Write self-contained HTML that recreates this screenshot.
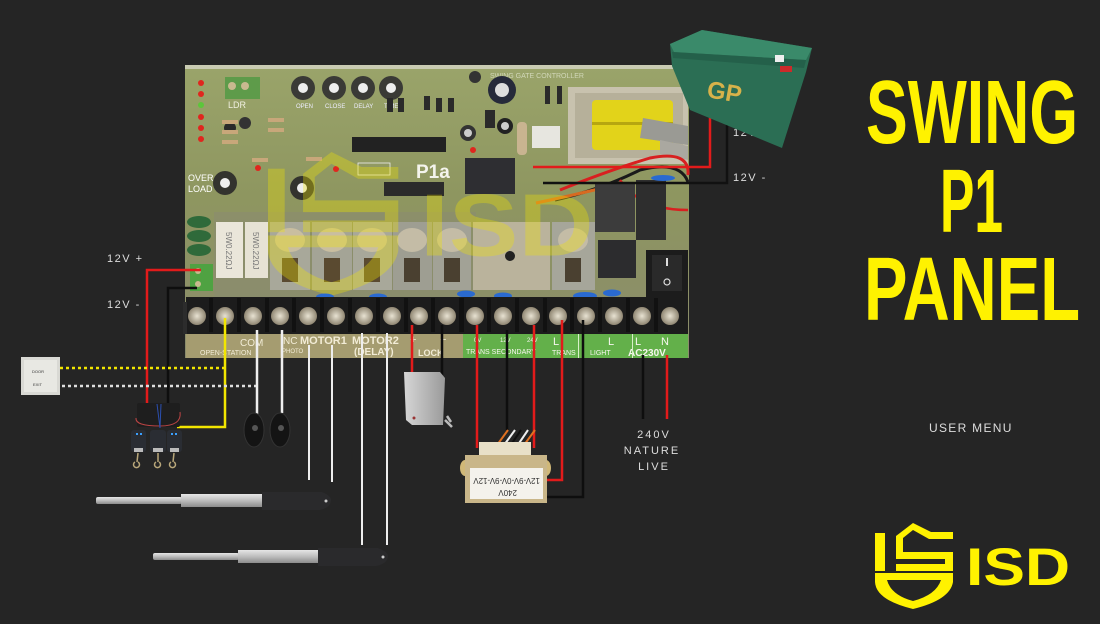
<!DOCTYPE html>
<html><head><meta charset="utf-8"><style>
html,body{margin:0;padding:0;background:#252525;}
svg{display:block;}
text{font-family:"Liberation Sans",sans-serif;}
</style></head><body>
<svg width="1100" height="624" viewBox="0 0 1100 624" xmlns="http://www.w3.org/2000/svg">
<defs>
<linearGradient id="pcb" x1="0" y1="0" x2="0" y2="1">
<stop offset="0" stop-color="#9aa46a"/><stop offset="0.45" stop-color="#8e9660"/><stop offset="1" stop-color="#8a8b6c"/>
</linearGradient>
<linearGradient id="rod" x1="0" y1="0" x2="0" y2="1">
<stop offset="0" stop-color="#e6e6e6"/><stop offset="0.5" stop-color="#bdbdbd"/><stop offset="1" stop-color="#8c8c8c"/>
</linearGradient>
<linearGradient id="lock" x1="0" y1="0" x2="1" y2="0">
<stop offset="0" stop-color="#d6d6d6"/><stop offset="1" stop-color="#9a9a9a"/>
</linearGradient>
<radialGradient id="screw"><stop offset="0" stop-color="#e8e2d2"/><stop offset="1" stop-color="#8f8672"/></radialGradient>
</defs>
<rect width="1100" height="624" fill="#252525"/>

<!-- PCB -->
<rect x="185" y="65" width="504" height="293" fill="url(#pcb)"/>
<rect x="185" y="65" width="504" height="4" fill="#c9cbb2"/>
<text x="490" y="78" font-size="7" fill="#e8ecd8" opacity="0.7">SWING GATE CONTROLLER</text>
<!-- LEDs -->
<g fill="#e0261e"><circle cx="201" cy="83" r="3"/><circle cx="201" cy="94" r="3"/><circle cx="201" cy="117" r="3"/><circle cx="201" cy="128" r="3"/><circle cx="201" cy="139" r="3"/><circle cx="258" cy="168" r="3"/><circle cx="336" cy="169" r="3"/><circle cx="473" cy="150" r="3"/></g>
<circle cx="201" cy="105" r="3" fill="#5cc63a"/>
<rect x="225" y="77" width="35" height="22" fill="#5e9b4a"/><circle cx="232" cy="86" r="4" fill="#c9b98f"/><circle cx="245" cy="86" r="4" fill="#c9b98f"/>
<text x="228" y="108" font-size="9" fill="#f0f0e0">LDR</text>
<!-- trimpots top -->
<g><circle cx="303" cy="88" r="12" fill="#3a3a36"/><circle cx="303" cy="88" r="5" fill="#eee"/>
<circle cx="334" cy="88" r="12" fill="#3a3a36"/><circle cx="334" cy="88" r="5" fill="#eee"/>
<circle cx="363" cy="88" r="12" fill="#3a3a36"/><circle cx="363" cy="88" r="5" fill="#eee"/>
<circle cx="391" cy="88" r="12" fill="#3a3a36"/><circle cx="391" cy="88" r="5" fill="#eee"/></g>
<g font-size="6" fill="#eef"><text x="296" y="108">OPEN</text><text x="325" y="108">CLOSE</text><text x="354" y="108">DELAY</text><text x="384" y="108">TIMER</text></g>
<!-- misc small components -->
<g fill="#2a2a2a"><rect x="387" y="98" width="6" height="14"/><rect x="398" y="98" width="6" height="14"/><rect x="424" y="96" width="6" height="14"/><rect x="436" y="98" width="6" height="14"/><rect x="448" y="98" width="6" height="14"/><rect x="485" y="110" width="10" height="18"/><rect x="545" y="86" width="5" height="18"/><rect x="557" y="86" width="5" height="18"/></g>
<circle cx="502" cy="90" r="14" fill="#262a3a"/><circle cx="502" cy="90" r="7" fill="#ddd"/>
<circle cx="475" cy="77" r="6" fill="#333"/>
<circle cx="505" cy="126" r="8" fill="#222"/><circle cx="505" cy="126" r="4" fill="#ccc"/>
<circle cx="468" cy="133" r="8" fill="#333"/><circle cx="468" cy="133" r="4" fill="#ccc"/>
<rect x="517" y="122" width="10" height="33" rx="4" fill="#c9b490"/>
<rect x="532" y="126" width="28" height="22" fill="#e7e6e0"/>
<rect x="352" y="137" width="94" height="15" fill="#222"/>
<rect x="384" y="182" width="60" height="14" fill="#2b2b2b"/>
<circle cx="230" cy="128" r="6" fill="#2a2a2a"/><circle cx="245" cy="123" r="6" fill="#333"/>
<g fill="#c8a77a"><rect x="222" y="120" width="16" height="4"/><rect x="222" y="130" width="16" height="4"/><rect x="222" y="140" width="16" height="4"/><rect x="268" y="118" width="16" height="4"/><rect x="268" y="128" width="16" height="4"/><rect x="306" y="157" width="16" height="4"/><rect x="252" y="158" width="16" height="4"/></g>
<!-- trimpots lower -->
<circle cx="225" cy="183" r="12" fill="#33332e"/><circle cx="225" cy="183" r="5" fill="#eee"/>
<circle cx="302" cy="188" r="12" fill="#33332e"/><circle cx="302" cy="188" r="5" fill="#eee"/>
<text x="188" y="181" font-size="9" fill="#fff" font-family="Liberation Serif">OVER</text>
<text x="188" y="192" font-size="9" fill="#fff" font-family="Liberation Serif">LOAD</text>
<text x="416" y="178" font-size="19" font-weight="bold" fill="#f4f4ec" font-family="Liberation Serif">P1a</text>
<rect x="358" y="163" width="32" height="12" fill="none" stroke="#eee" stroke-width="0.8"/>
<!-- black relay top -->
<rect x="465" y="158" width="50" height="36" fill="#2e2e32"/>
<!-- transformer top -->
<rect x="568" y="87" width="120" height="77" fill="#c8c2ae"/>
<rect x="575" y="93" width="108" height="65" fill="#b6b09a"/>
<rect x="592" y="100" width="81" height="50" rx="4" fill="#e2d31a"/>
<rect x="592" y="122" width="81" height="3" fill="#b6a610"/>
<path d="M643 118 L688 126 L688 145 L640 138 Z" fill="#9a9a94"/>
<path d="M660 140 L688 146 L688 160 L660 154 Z" fill="#aaa8a0"/>
<!-- wiring on board -->
<path d="M560 190 Q610 170 650 158 Q690 150 688 175" fill="none" stroke="#d82020" stroke-width="3"/>
<path d="M555 200 Q600 190 640 170 Q680 160 688 182" fill="none" stroke="#1a1a1a" stroke-width="3"/>
<path d="M536 203 Q570 196 615 185" fill="none" stroke="#d86a20" stroke-width="3"/>
<path d="M620 180 Q640 210 688 210" fill="none" stroke="#d82020" stroke-width="2.5"/>
<rect x="595" y="182" width="40" height="50" fill="#3c3c3c"/>
<rect x="636" y="180" width="30" height="60" fill="#2e2e2e"/>
<ellipse cx="663" cy="178" rx="12" ry="3" fill="#2a6ad0"/>
<!-- left green caps -->
<g fill="#2f6a3a"><ellipse cx="199" cy="222" rx="12" ry="6"/><ellipse cx="199" cy="236" rx="12" ry="6"/><ellipse cx="199" cy="250" rx="12" ry="6"/></g>
<rect x="190" y="264" width="23" height="27" fill="#4fa242"/>
<circle cx="198" cy="271" r="3" fill="#c9b98f"/><circle cx="198" cy="284" r="3" fill="#c9b98f"/>
<!-- relay row -->
<rect x="214" y="212" width="262" height="86" fill="#8b8c70" opacity="0.6"/>
<rect x="216" y="222" width="27" height="56" fill="#eae6da"/>
<rect x="245" y="222" width="23" height="56" fill="#e6e2d4"/>
<text transform="translate(226,232) rotate(90)" font-size="8" fill="#777">5W0.22ΩJ</text>
<text transform="translate(253,232) rotate(90)" font-size="8" fill="#777">5W0.22ΩJ</text>
<g>
<rect x="270" y="222" width="40" height="68" fill="#a8a89a"/><ellipse cx="290" cy="240" rx="15" ry="12" fill="#c9bea0"/><rect x="282" y="258" width="16" height="24" fill="#5a4a30"/>
<rect x="312" y="222" width="40" height="68" fill="#a4a496"/><ellipse cx="332" cy="240" rx="15" ry="12" fill="#c9bea0"/><rect x="324" y="258" width="16" height="24" fill="#5a4a30"/>
<rect x="353" y="222" width="39" height="68" fill="#a8a89a"/><ellipse cx="372" cy="240" rx="15" ry="12" fill="#c9bea0"/><rect x="364" y="258" width="16" height="24" fill="#5a4a30"/>
<rect x="393" y="222" width="39" height="68" fill="#9e9e92"/><ellipse cx="412" cy="240" rx="15" ry="12" fill="#c4bca6"/><rect x="404" y="258" width="16" height="24" fill="#4a4030"/>
<rect x="433" y="222" width="38" height="68" fill="#a2a296"/><ellipse cx="452" cy="240" rx="15" ry="12" fill="#c4bca6"/><rect x="444" y="258" width="16" height="24" fill="#4a4030"/>
<rect x="473" y="222" width="77" height="68" fill="#bab39c"/><circle cx="510" cy="256" r="5" fill="#222"/>
<rect x="552" y="222" width="43" height="68" fill="#a6a69a"/><ellipse cx="573" cy="240" rx="15" ry="12" fill="#c4bca6"/><rect x="565" y="258" width="16" height="24" fill="#4a4030"/>
<rect x="598" y="240" width="38" height="38" fill="#2c2c2e"/>
<rect x="646" y="250" width="42" height="48" fill="#1c1c1c"/><rect x="652" y="255" width="30" height="36" fill="#2a2a2a"/>
<rect x="666" y="258" width="2" height="8" fill="#ddd"/><circle cx="667" cy="282" r="3" fill="none" stroke="#ddd" stroke-width="1.2"/>
</g>
<!-- watermark: ISD logo scaled -->
<g fill="#f2e600" opacity="0.33" transform="translate(268,152) scale(1.67) translate(-875,-523)">
<rect x="875" y="533" width="10" height="38"/>
<path d="M896 551 V536 L913 523 L931 532 H953 V539 H929 L913 530 L903 538 V551 Z"/>
<path d="M896 548 H903 V552 H953 V571 H896 V564 H945 V559 H896 Z"/>
<path fill-rule="evenodd" d="M875 573 H953 V582 Q950 600 913 609 Q876 600 875 582 Z M887 580 H941 Q936 595 913 601 Q891 595 887 580 Z"/>
<text x="966" y="585" font-size="53" font-weight="bold" textLength="104" lengthAdjust="spacingAndGlyphs">ISD</text>
</g>
<!-- blue caps -->
<g fill="#2a6ad0"><ellipse cx="325" cy="297" rx="9" ry="3.5"/><ellipse cx="378" cy="297" rx="9" ry="3.5"/><ellipse cx="466" cy="294" rx="9" ry="3.5"/><ellipse cx="503" cy="296" rx="9" ry="3.5"/><ellipse cx="585" cy="296" rx="12" ry="4"/><ellipse cx="612" cy="293" rx="9" ry="3.5"/></g>
<!-- terminal block -->
<rect x="186" y="297" width="502" height="37" fill="#1c1c1c"/>
<rect x="183" y="302" width="4" height="32" fill="#2c2c2c"/>
<g>
<circle cx="197" cy="316" r="9" fill="url(#screw)"/><circle cx="225" cy="316" r="9" fill="url(#screw)"/><circle cx="253" cy="316" r="9" fill="url(#screw)"/><circle cx="280" cy="316" r="9" fill="url(#screw)"/><circle cx="308" cy="316" r="9" fill="url(#screw)"/><circle cx="336" cy="316" r="9" fill="url(#screw)"/><circle cx="364" cy="316" r="9" fill="url(#screw)"/><circle cx="392" cy="316" r="9" fill="url(#screw)"/><circle cx="419" cy="316" r="9" fill="url(#screw)"/><circle cx="447" cy="316" r="9" fill="url(#screw)"/><circle cx="475" cy="316" r="9" fill="url(#screw)"/><circle cx="503" cy="316" r="9" fill="url(#screw)"/><circle cx="531" cy="316" r="9" fill="url(#screw)"/><circle cx="558" cy="316" r="9" fill="url(#screw)"/><circle cx="586" cy="316" r="9" fill="url(#screw)"/><circle cx="614" cy="316" r="9" fill="url(#screw)"/><circle cx="642" cy="316" r="9" fill="url(#screw)"/><circle cx="670" cy="316" r="9" fill="url(#screw)"/>
</g>
<g fill="#111"><rect x="209" y="298" width="4" height="34"/><rect x="237" y="298" width="4" height="34"/><rect x="265" y="298" width="4" height="34"/><rect x="292" y="298" width="4" height="34"/><rect x="320" y="298" width="4" height="34"/><rect x="348" y="298" width="4" height="34"/><rect x="376" y="298" width="4" height="34"/><rect x="404" y="298" width="4" height="34"/><rect x="431" y="298" width="4" height="34"/><rect x="459" y="298" width="5" height="34"/><rect x="487" y="298" width="4" height="34"/><rect x="515" y="298" width="4" height="34"/><rect x="543" y="298" width="4" height="34"/><rect x="570" y="298" width="4" height="34"/><rect x="598" y="298" width="4" height="34"/><rect x="626" y="298" width="4" height="34"/><rect x="654" y="298" width="4" height="34"/></g>
<!-- label strip -->
<rect x="186" y="334" width="277" height="24" fill="#a59c70"/>
<rect x="463" y="334" width="225" height="24" fill="#63b04a"/>
<g fill="#f2ecd6" font-family="Liberation Serif">
<text x="240" y="346" font-size="10">COM</text><text x="283" y="344" font-size="10">NC</text>
<text x="282" y="353" font-size="6">PHOTO</text><text x="200" y="355" font-size="7">OPEN-STATION</text>
<text x="300" y="344" font-size="11" font-weight="bold">MOTOR1</text>
<text x="352" y="344" font-size="11" font-weight="bold">MOTOR2</text>
<text x="354" y="355" font-size="10" font-weight="bold">(DELAY)</text>
<text x="410" y="343" font-size="11">+</text><text x="440" y="343" font-size="11">−</text>
<text x="418" y="356" font-size="9" font-weight="bold">LOCK</text>
</g>
<g fill="#f6f6ee" font-family="Liberation Serif">
<text x="474" y="342" font-size="6">0V</text><text x="500" y="342" font-size="6">12V</text><text x="527" y="342" font-size="6">24V</text>
<text x="466" y="354" font-size="7">TRANS SECONDARY</text>
<text x="553" y="345" font-size="11">L</text><text x="552" y="355" font-size="7">TRANS</text>
<text x="608" y="345" font-size="11">L</text><text x="590" y="355" font-size="7">LIGHT</text>
<text x="635" y="345" font-size="11">L</text><text x="661" y="345" font-size="11">N</text>
<text x="628" y="356" font-size="10" font-weight="bold">AC230V</text>
</g>
<rect x="632" y="334" width="1" height="24" fill="#d8f0c8"/>
<rect x="578" y="334" width="1" height="24" fill="#d8f0c8"/>

<!-- battery wires -->
<polyline points="710,110 710,167 533,167" fill="none" stroke="#e21b1b" stroke-width="2.5"/>
<polyline points="727,118 727,183 543,183" fill="none" stroke="#111" stroke-width="2.5"/>
<text x="733" y="136" font-size="11" fill="#ddd" letter-spacing="1.5">12V +</text>
<text x="733" y="181" font-size="11" fill="#ddd" letter-spacing="1.5">12V -</text>
<!-- battery -->
<polygon points="670,44 702,30 812,48 806,72 782,148 690,110 672,66" fill="#2b6e54"/>
<polygon points="670,44 702,30 812,48 806,60 674,52" fill="#3a8a6a"/>
<polygon points="672,52 806,60 804,68 673,58" fill="#24604a"/>
<rect x="775" y="55" width="9" height="7" fill="#eee"/>
<rect x="780" y="66" width="12" height="6" fill="#cc2a2a"/>
<text x="706" y="97" font-size="24" font-weight="bold" fill="#d7b24a" transform="rotate(10 706 97)">GP</text>

<!-- left wiring -->
<polyline points="201,270 147,270 147,405" fill="none" stroke="#e21b1b" stroke-width="2.5"/>
<polyline points="197,288 168,288 168,405" fill="none" stroke="#0e0e0e" stroke-width="2.5"/>
<text x="107" y="262" font-size="11" fill="#ddd" letter-spacing="1.5">12V +</text>
<text x="107" y="308" font-size="11" fill="#ddd" letter-spacing="1.5">12V -</text>
<polyline points="225,318 225,427 177,427" fill="none" stroke="#f2e600" stroke-width="2.5"/>
<line x1="60" y1="368" x2="225" y2="368" stroke="#f2e600" stroke-width="2.5" stroke-dasharray="3,3"/>
<line x1="62" y1="386" x2="256" y2="386" stroke="#ddd" stroke-width="2.5" stroke-dasharray="3,3"/>
<!-- door button -->
<rect x="21" y="357" width="39" height="38" fill="#d9d9d4"/>
<rect x="24" y="360" width="33" height="32" fill="#e8e8e3"/>
<text x="32" y="373" font-size="4" fill="#333">DOOR</text><text x="33" y="386" font-size="4" fill="#333">EXIT</text>
<!-- remote receiver -->
<rect x="137" y="403" width="43" height="24" rx="2" fill="#1e1e1e"/>
<path d="M136 418 Q135 426 160 426 Q182 426 180 412" fill="none" stroke="#b44" stroke-width="1"/>
<path d="M157 404 L160 428 M161 404 L160 428" stroke="#2b4fb0" stroke-width="1"/>
<g fill="#2a2d33"><rect x="131" y="430" width="15" height="22" rx="3"/><rect x="150" y="430" width="16" height="22" rx="3"/><rect x="167" y="430" width="15" height="22" rx="3"/></g>
<g fill="#3aa0ff"><rect x="136" y="433" width="2" height="2"/><rect x="140" y="433" width="2" height="2"/><rect x="171" y="433" width="2" height="2"/><rect x="175" y="433" width="2" height="2"/></g>
<g fill="#bbb"><rect x="134" y="448" width="9" height="4"/><rect x="153" y="448" width="10" height="4"/><rect x="170" y="448" width="9" height="4"/></g>
<g fill="none" stroke="#b9a77a" stroke-width="1.5"><path d="M138 453 L137 462 M135 462 a3 3 0 1 0 3 0"/><path d="M158 453 L158 462 M156 462 a3 3 0 1 0 3 0"/><path d="M174 453 L173 462 M171 462 a3 3 0 1 0 3 0"/></g>
<!-- photo beams -->
<line x1="257" y1="330" x2="257" y2="417" stroke="#eee" stroke-width="2.5"/>
<line x1="282" y1="330" x2="282" y2="413" stroke="#eee" stroke-width="2.5"/>
<ellipse cx="254" cy="430" rx="10" ry="17" fill="#141414" stroke="#333" stroke-width="1"/>
<circle cx="255" cy="428" r="3" fill="#555"/>
<ellipse cx="280" cy="430" rx="10" ry="17" fill="#141414" stroke="#333" stroke-width="1"/>
<circle cx="281" cy="428" r="3" fill="#555"/>
<!-- motor wires -->
<line x1="309" y1="345" x2="309" y2="480" stroke="#eee" stroke-width="2"/>
<line x1="332" y1="345" x2="332" y2="482" stroke="#eee" stroke-width="2"/>
<line x1="362" y1="333" x2="362" y2="545" stroke="#eee" stroke-width="2"/>
<line x1="387" y1="333" x2="387" y2="545" stroke="#eee" stroke-width="2"/>
<!-- actuators -->
<rect x="96" y="497" width="86" height="7" rx="2" fill="url(#rod)"/>
<rect x="181" y="494" width="82" height="13" fill="url(#rod)"/>
<path d="M262 492 L322 492 Q332 496 331 501 Q330 508 320 510 L262 510 Z" fill="#2a2a2c"/>
<circle cx="326" cy="501" r="1.5" fill="#ccc"/>
<rect x="153" y="553" width="86" height="7" rx="2" fill="url(#rod)"/>
<rect x="238" y="550" width="81" height="13" fill="url(#rod)"/>
<path d="M318 548 L378 548 Q389 552 388 557 Q387 564 376 566 L318 566 Z" fill="#2a2a2c"/>
<circle cx="383" cy="557" r="1.5" fill="#ccc"/>
<!-- lock -->
<line x1="412" y1="325" x2="412" y2="373" stroke="#e21b1b" stroke-width="2.5"/>
<line x1="442" y1="325" x2="442" y2="375" stroke="#0e0e0e" stroke-width="2.5"/>
<path d="M404 372 L440 372 L445 378 L443 425 L412 425 L406 420 Z" fill="url(#lock)"/>
<circle cx="414" cy="418" r="1.5" fill="#933"/>
<path d="M445 420 L452 427 M447 416 L451 422" stroke="#bbb" stroke-width="2.5"/>
<!-- transformer wires -->
<polyline points="477,325 477,448" fill="none" stroke="#e21b1b" stroke-width="2.5"/>
<polyline points="507,330 507,430" fill="none" stroke="#0e0e0e" stroke-width="2.5"/>
<polyline points="534,325 534,448" fill="none" stroke="#e21b1b" stroke-width="2.5"/>
<polyline points="562,320 562,480 538,480" fill="none" stroke="#e21b1b" stroke-width="2.5"/>
<polyline points="583,320 583,497 538,497" fill="none" stroke="#0e0e0e" stroke-width="2.5"/>
<g fill="none" stroke-width="2"><path d="M492 452 L508 430" stroke="#e07020"/><path d="M499 452 L515 430" stroke="#eee"/><path d="M506 452 L521 430" stroke="#111"/><path d="M513 452 L528 430" stroke="#eee"/><path d="M519 452 L535 430" stroke="#e07020"/></g>
<!-- transformer -->
<rect x="479" y="442" width="52" height="14" fill="#e8e0c8"/>
<ellipse cx="465" cy="468" rx="5" ry="8" fill="#d0b878"/>
<ellipse cx="546" cy="468" rx="5" ry="8" fill="#d0b878"/>
<rect x="465" y="455" width="82" height="48" fill="#c9b689"/>
<rect x="470" y="468" width="73" height="31" fill="#f4f2ec"/>
<text transform="translate(540,478) rotate(180)" font-size="8" fill="#333">12V-9V-0V-9V-12V</text>
<text transform="translate(517,490) rotate(180)" font-size="8" fill="#333">240V</text>
<!-- AC wires -->
<line x1="643" y1="355" x2="643" y2="419" stroke="#0e0e0e" stroke-width="2.5"/>
<line x1="667" y1="355" x2="667" y2="419" stroke="#e21b1b" stroke-width="2.5"/>
<g font-size="11" fill="#ddd" letter-spacing="2" text-anchor="middle">
<text x="654" y="438">240V</text><text x="652" y="454">NATURE</text><text x="654" y="470">LIVE</text>
</g>

<!-- Title -->
<g fill="#fff200" font-weight="bold" font-size="90">
<text x="866" y="143" textLength="212" lengthAdjust="spacingAndGlyphs">SWING</text>
<text x="940" y="232" textLength="63" lengthAdjust="spacingAndGlyphs">P1</text>
<text x="864" y="320" textLength="216" lengthAdjust="spacingAndGlyphs">PANEL</text>
</g>
<text x="929" y="432" font-size="12" fill="#ddd" letter-spacing="1.6" textLength="84">USER MENU</text>

<!-- ISD logo -->
<g fill="#fff200">
<rect x="875" y="533" width="10" height="38"/>
<path d="M896 551 V536 L913 523 L931 532 H953 V539 H929 L913 530 L903 538 V551 Z"/>
<path d="M896 548 H903 V552 H953 V571 H896 V564 H945 V559 H896 Z"/>
<path fill-rule="evenodd" d="M875 573 H953 V582 Q950 600 913 609 Q876 600 875 582 Z M887 580 H941 Q936 595 913 601 Q891 595 887 580 Z"/>
<text x="966" y="585" font-size="53" font-weight="bold" textLength="104" lengthAdjust="spacingAndGlyphs">ISD</text>
</g>
</svg>
</body></html>
